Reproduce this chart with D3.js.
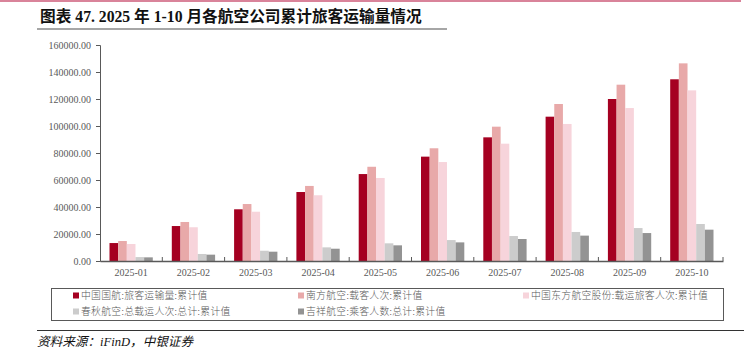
<!DOCTYPE html>
<html>
<head>
<meta charset="utf-8">
<script src="https://cdn.jsdelivr.net/npm/d3@7"></script>
<style>
  body { margin: 0; background: #fff; }
  svg text { font-family: "Liberation Serif", "Noto Sans CJK SC", serif; }
</style>
</head>
<body>
<div id="chart"></div>
<script>
const months = ["2025-01","2025-02","2025-03","2025-04","2025-05","2025-06","2025-07","2025-08","2025-09","2025-10"];
const seriesNames = [
    "中国国航:旅客运输量:累计值",
    "南方航空:载客人次:累计值",
    "中国东方航空股份:载运旅客人次:累计值",
    "春秋航空:总载运人次:总计:累计值",
    "吉祥航空:乘客人数:总计:累计值"
];
const airChina  = [13300, 25900, 38300, 51100, 64400, 77300, 91600, 106900, 120000, 134600];
const chinaSouthern = [14800, 28900, 42200, 55600, 69800, 83500, 99500, 116300, 130600, 146400];
const chinaEastern  = [12600, 25000, 36500, 48700, 61500, 73300, 86900, 101500, 113300, 126400];
const spring  = [2900, 5200, 7600, 10100, 13100, 15500, 18500, 21500, 24400, 27400];
const juneyao = [2700, 4700, 6900, 9100, 11600, 13800, 16300, 18800, 20700, 23200];
const yTicks = [0, 20000, 40000, 60000, 80000, 100000, 120000, 140000, 160000];
const colors = ["#A50021", "#E8A9A9", "#F7D4DB", "#CCCCCC", "#939393"];

const allSeries = [airChina, chinaSouthern, chinaEastern, spring, juneyao];
const W = 744, H = 353;
const margin = {top: 45, right: 21, bottom: 92, left: 100},
    width = W - margin.left - margin.right,
    height = H - margin.top - margin.bottom;

const root = d3.select("#chart").append("svg")
    .attr("width", W)
    .attr("height", H);

// top rule
root.append("rect").attr("x", 0).attr("y", 0).attr("width", 741).attr("height", 2).attr("fill", "#D9839A");

// title
root.append("text")
    .attr("x", 40).attr("y", 22)
    .style("font-size", "15.7px")
    .style("font-weight", "bold")
    .attr("fill", "#111")
    .text("图表 47. 2025 年 1-10 月各航空公司累计旅客运输量情况");
root.append("rect").attr("x", 37).attr("y", 28).attr("width", 410).attr("height", 2).attr("fill", "#A6A6A6");

const svg = root.append("g")
    .attr("transform", `translate(${margin.left},${margin.top})`);

const x0 = d3.scaleBand().domain(months).range([0, width]).paddingInner(0).paddingOuter(0);
const x1 = d3.scaleBand().domain(d3.range(5)).range([9.5, x0.bandwidth() - 9.5]);
const y = d3.scaleLinear().domain([0, 160000]).range([height, 0]);

const groups = svg.selectAll(".grp")
    .data(months)
    .enter().append("g")
    .attr("transform", d => `translate(${x0(d)},0)`);

groups.selectAll("rect")
    .data((m, i) => allSeries.map((s, k) => ({k: k, v: s[i]})))
    .enter().append("rect")
    .attr("x", d => x1(d.k))
    .attr("width", x1.bandwidth())
    .attr("y", d => y(d.v))
    .attr("height", d => height - y(d.v))
    .attr("fill", d => colors[d.k]);

// y axis
const yAxis = svg.append("g")
    .call(d3.axisLeft(y).tickValues(yTicks).tickSize(4).tickFormat(d => d3.format(".2f")(d)));
yAxis.select(".domain").attr("stroke", "#595959");
yAxis.selectAll(".tick line").attr("stroke", "#595959");
yAxis.selectAll("text").attr("fill", "#595959").style("font-size", "10px").attr("x", -9);

// x axis with ticks between groups
const xAxis = svg.append("g")
    .attr("transform", `translate(0,${height})`)
    .call(d3.axisBottom(x0).tickSize(0).tickSizeOuter(0));
xAxis.select(".domain").attr("stroke", "#595959").attr("stroke-width", 1.5);
xAxis.selectAll("text").attr("fill", "#595959").style("font-size", "10px").attr("dy", "1.2em");
svg.append("g").selectAll("line")
    .data(months.slice(1).concat(["end"]))
    .enter().append("line")
    .attr("x1", (d, i) => x0.bandwidth() * (i + 1))
    .attr("x2", (d, i) => x0.bandwidth() * (i + 1))
    .attr("y1", height)
    .attr("y2", height - 4)
    .attr("stroke", "#595959");

// legend
root.append("rect")
    .attr("x", 51.5).attr("y", 288.5).attr("width", 672).attr("height", 32)
    .attr("fill", "none").attr("stroke", "#595959");
const legendPos = [[73, 296], [298, 296], [523, 296], [73, 312], [298, 312]];
seriesNames.forEach((name, i) => {
    const g = root.append("g").attr("transform", `translate(${legendPos[i][0]},${legendPos[i][1]})`);
    g.append("rect").attr("x", 0).attr("y", -3.5).attr("width", 6).attr("height", 6).attr("fill", colors[i]);
    g.append("text").attr("x", 8).attr("y", 0).attr("dy", "0.35em")
        .style("font-size", "9.8px").attr("fill", "#595959")
        .style("letter-spacing", "0.3px")
        .style("font-family", "'Noto Sans CJK SC', sans-serif")
        .style("font-weight", "300")
        .text(name);
});

// source
root.append("rect").attr("x", 37).attr("y", 330).attr("width", 707).attr("height", 1).attr("fill", "#333");
root.append("text")
    .attr("x", 37).attr("y", 346)
    .style("font-size", "12.6px").style("font-style", "italic").attr("fill", "#111")
    .text("资料来源：iFinD，中银证券");
</script>
</body>
</html>
